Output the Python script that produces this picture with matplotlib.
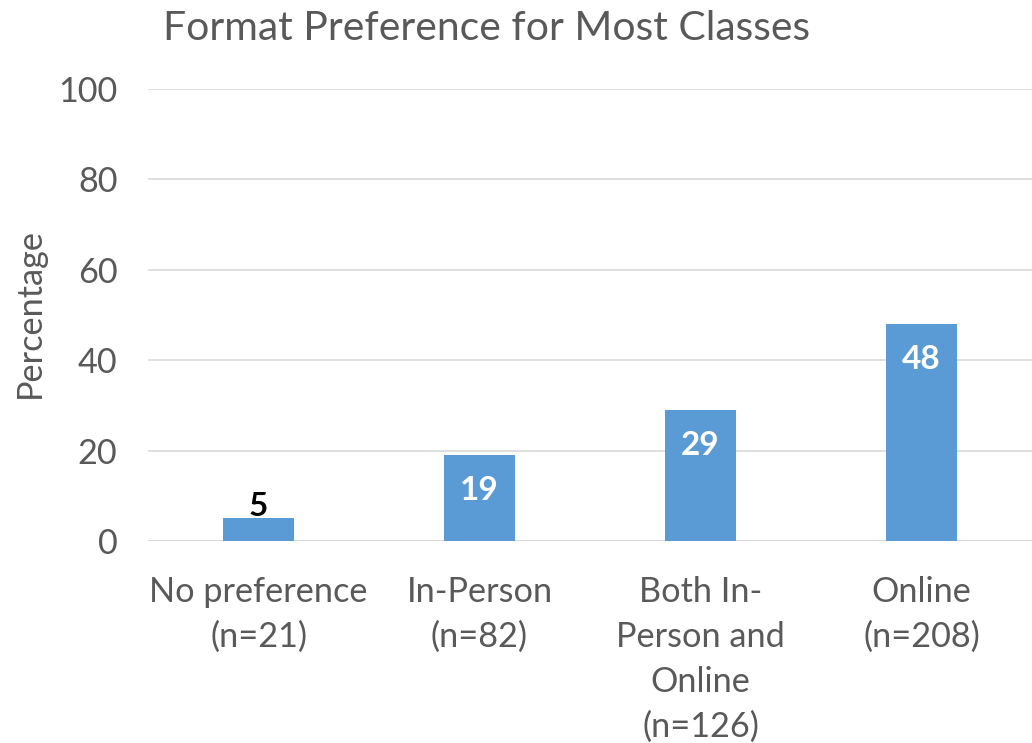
import matplotlib
matplotlib.use("Agg")
import matplotlib.pyplot as plt

categories = ["No preference\n(n=21)", "In-Person\n(n=82)", "Both In-\nPerson and\nOnline\n(n=126)", "Online\n(n=208)"]
values = [5, 19, 29, 48]
yticks = [0, 20, 40, 60, 80, 100]

plt.rcParams['font.family'] = ['Lato', 'DejaVu Sans']
grey = "#595959"
bar_color = "#5B9BD5"

fig = plt.figure(figsize=(10.32, 7.43), dpi=100)
ax = fig.add_axes([148/1032, 1-541/743, 1-148/1032, (541-89)/743])
x = list(range(len(categories)))
bars = ax.bar(x, values, width=0.317, color=bar_color, zorder=3)
ax.set_xlim(-0.5, len(categories)-0.5)
ax.set_ylim(0, 100)
ax.set_yticks(yticks)
ax.set_yticklabels([str(t) for t in yticks], fontsize=24.7, color=grey)
ax.set_xticks(x)
ax.set_xticklabels(categories, fontsize=24.7, color=grey, linespacing=1.5)
ax.tick_params(axis='y', length=0, pad=22)
ax.tick_params(axis='x', length=0, pad=25)
ax.grid(axis='y', color="#D9D9D9", linewidth=1.2, zorder=0)
for s in ax.spines.values():
    s.set_visible(False)
ax.axhline(0, color="#D9D9D9", linewidth=1.2, zorder=1)
fig.text(30/1032, 1-313/743, "Percentage", fontsize=24.7, color=grey, rotation=90, ha='center', va='center')
fig.text(0.4714, 1-28/743, "Format Preference for Most Classes", fontsize=29.4, color=grey, ha='center', va='center')

for i, v in enumerate(values):
    if v < 10:
        ax.text(i, v + 2.6, str(v), ha='center', va='center', fontsize=24, fontweight='bold', color='black', zorder=4)
    else:
        ax.text(i, v - 7.8, str(v), ha='center', va='center', fontsize=24, fontweight='bold', color='white', zorder=4)

fig.savefig("out.png", dpi=100)
